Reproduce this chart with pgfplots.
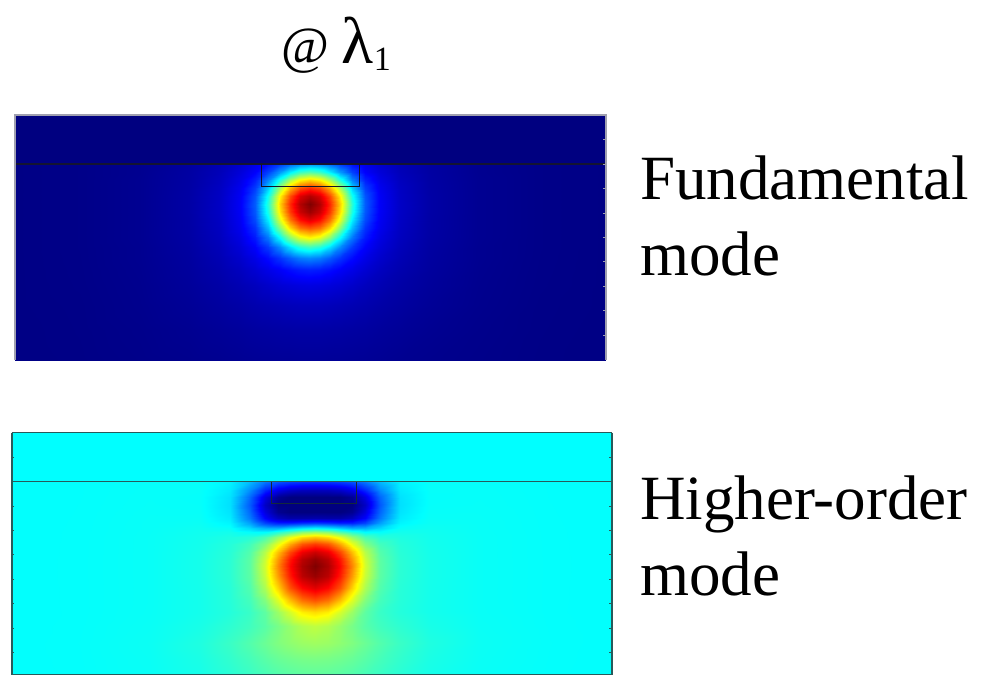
\documentclass[border=0pt]{standalone}
\usepackage{pgfplots}
\pgfplotsset{compat=1.18}
\usepackage{fontspec}
\setmainfont{Liberation Serif}
\definecolor{tealframe}{RGB}{40,90,90}
\definecolor{grayframe}{RGB}{160,160,175}
\begin{document}
\begin{tikzpicture}
\path[use as bounding box] (0,0) rectangle (986pt,-675pt);
% ---------- Fundamental mode ----------
\begin{axis}[at={(15pt,-115pt)}, anchor=north west, scale only axis,
  width=591pt, height=245pt, view={0}{90}, clip=false,
  xmin=15, xmax=606, ymin=115, ymax=360, y dir=reverse,
  colormap/jet, point meta min=0, point meta max=1,
  xtick=\empty, ztick=\empty,
  ytick={139.7,164.1,188.5,212.9,237.3,261.7,286.1,310.5,334.9}, yticklabels={},
  ytick pos=right, tick align=inside, major tick length=2.5pt,
  axis line style={draw=none},
  every tick/.style={grayframe, line width=0.8pt}]
\addplot3[surf, shader=interp, mesh/cols=23] coordinates {
(15,115,0) (80,115,0) (140,115,0) (190,115,0) (220,115,0) (240,115,0) (255,115,0) (268,115,0) (280,115,0) (290,115,0) (300,115,0) (310,115,0) (320,115,0) (330,115,0) (340,115,0) (352,115,0) (365,115,0) (380,115,0) (400,115,0) (430,115,0) (480,115,0) (540,115,0) (606,115,0)
(15,163,0) (80,163,0) (140,163,0) (190,163,0) (220,163,0) (240,163,0) (255,163,0) (268,163,0) (280,163,0) (290,163,0) (300,163,0) (310,163,0) (320,163,0) (330,163,0) (340,163,0) (352,163,0) (365,163,0) (380,163,0) (400,163,0) (430,163,0) (480,163,0) (540,163,0) (606,163,0)
(15,164,.005) (80,164,.0085) (140,164,.016) (190,164,.032) (220,164,.052) (240,164,.076) (255,164,.105) (268,164,.138) (280,164,.185) (290,164,.228) (300,164,.263) (310,164,.275) (320,164,.263) (330,164,.228) (340,164,.185) (352,164,.138) (365,164,.105) (380,164,.076) (400,164,.052) (430,164,.032) (480,164,.016) (540,164,.0085) (606,164,.005)
(15,172,.005) (80,172,.0085) (140,172,.016) (190,172,.034) (220,172,.056) (240,172,.087) (255,172,.122) (268,172,.188) (280,172,.275) (290,172,.36) (300,172,.43) (310,172,.455) (320,172,.43) (330,172,.36) (340,172,.275) (352,172,.188) (365,172,.122) (380,172,.087) (400,172,.056) (430,172,.034) (480,172,.016) (540,172,.0085) (606,172,.005)
(15,180,.005) (80,180,.0085) (140,180,.017) (190,180,.035) (220,180,.061) (240,180,.099) (255,180,.154) (268,180,.256) (280,180,.407) (290,180,.543) (300,180,.636) (310,180,.67) (320,180,.636) (330,180,.543) (340,180,.407) (352,180,.256) (365,180,.154) (380,180,.099) (400,180,.061) (430,180,.035) (480,180,.017) (540,180,.0085) (606,180,.005)
(15,188,.005) (80,188,.0085) (140,188,.017) (190,188,.036) (220,188,.065) (240,188,.109) (255,188,.184) (268,188,.33) (280,188,.543) (290,188,.70) (300,188,.80) (310,188,.835) (320,188,.80) (330,188,.70) (340,188,.543) (352,188,.33) (365,188,.184) (380,188,.109) (400,188,.065) (430,188,.036) (480,188,.017) (540,188,.0085) (606,188,.005)
(15,196,.005) (80,196,.0085) (140,196,.017) (190,196,.037) (220,196,.067) (240,196,.115) (255,196,.207) (268,196,.39) (280,196,.636) (290,196,.80) (300,196,.91) (310,196,.95) (320,196,.91) (330,196,.80) (340,196,.636) (352,196,.39) (365,196,.207) (380,196,.115) (400,196,.067) (430,196,.037) (480,196,.017) (540,196,.0085) (606,196,.005)
(15,204,.005) (80,204,.0085) (140,204,.017) (190,204,.037) (220,204,.068) (240,204,.117) (255,204,.215) (268,204,.415) (280,204,.67) (290,204,.835) (300,204,.95) (310,204,1) (320,204,.95) (330,204,.835) (340,204,.67) (352,204,.415) (365,204,.215) (380,204,.117) (400,204,.068) (430,204,.037) (480,204,.017) (540,204,.0085) (606,204,.005)
(15,212,.005) (80,212,.0085) (140,212,.017) (190,212,.037) (220,212,.068) (240,212,.116) (255,212,.21) (268,212,.40) (280,212,.65) (290,212,.815) (300,212,.925) (310,212,.97) (320,212,.925) (330,212,.815) (340,212,.65) (352,212,.40) (365,212,.21) (380,212,.116) (400,212,.068) (430,212,.037) (480,212,.017) (540,212,.0085) (606,212,.005)
(15,220,.005) (80,220,.0085) (140,220,.017) (190,220,.036) (220,220,.066) (240,220,.112) (255,220,.197) (268,220,.36) (280,220,.595) (290,220,.758) (300,220,.86) (310,220,.90) (320,220,.86) (330,220,.758) (340,220,.595) (352,220,.36) (365,220,.197) (380,220,.112) (400,220,.066) (430,220,.036) (480,220,.017) (540,220,.0085) (606,220,.005)
(15,228,.005) (80,228,.0085) (140,228,.017) (190,228,.036) (220,228,.064) (240,228,.107) (255,228,.173) (268,228,.31) (280,228,.505) (290,228,.66) (300,228,.76) (310,228,.79) (320,228,.76) (330,228,.66) (340,228,.505) (352,228,.31) (365,228,.173) (380,228,.107) (400,228,.064) (430,228,.036) (480,228,.017) (540,228,.0085) (606,228,.005)
(15,237,.005) (80,237,.0085) (140,237,.017) (190,237,.035) (220,237,.061) (240,237,.097) (255,237,.15) (268,237,.246) (280,237,.385) (290,237,.516) (300,237,.607) (310,237,.64) (320,237,.607) (330,237,.516) (340,237,.385) (352,237,.246) (365,237,.15) (380,237,.097) (400,237,.061) (430,237,.035) (480,237,.017) (540,237,.0085) (606,237,.005)
(15,247,.005) (80,247,.0085) (140,247,.016) (190,247,.033) (220,247,.056) (240,247,.086) (255,247,.123) (268,247,.181) (280,247,.262) (290,247,.345) (300,247,.41) (310,247,.435) (320,247,.41) (330,247,.345) (340,247,.262) (352,247,.181) (365,247,.123) (380,247,.086) (400,247,.056) (430,247,.033) (480,247,.016) (540,247,.0085) (606,247,.005)
(15,258,.005) (80,258,.0083) (140,258,.016) (190,258,.031) (220,258,.051) (240,258,.074) (255,258,.101) (268,258,.134) (280,258,.175) (290,258,.213) (300,258,.246) (310,258,.258) (320,258,.246) (330,258,.213) (340,258,.175) (352,258,.134) (365,258,.101) (380,258,.074) (400,258,.051) (430,258,.031) (480,258,.016) (540,258,.0083) (606,258,.005)
(15,270,.005) (80,270,.008) (140,270,.015) (190,270,.029) (220,270,.045) (240,270,.062) (255,270,.081) (268,270,.101) (280,270,.118) (290,270,.135) (300,270,.148) (310,270,.153) (320,270,.148) (330,270,.135) (340,270,.118) (352,270,.101) (365,270,.081) (380,270,.062) (400,270,.045) (430,270,.029) (480,270,.015) (540,270,.008) (606,270,.005)
(15,285,.005) (80,285,.0077) (140,285,.014) (190,285,.026) (220,285,.038) (240,285,.05) (255,285,.061) (268,285,.073) (280,285,.083) (290,285,.089) (300,285,.094) (310,285,.096) (320,285,.094) (330,285,.089) (340,285,.083) (352,285,.073) (365,285,.061) (380,285,.05) (400,285,.038) (430,285,.026) (480,285,.014) (540,285,.0077) (606,285,.005)
(15,305,.005) (80,305,.007) (140,305,.013) (190,305,.022) (220,305,.031) (240,305,.038) (255,305,.045) (268,305,.05) (280,305,.054) (290,305,.057) (300,305,.059) (310,305,.059) (320,305,.059) (330,305,.057) (340,305,.054) (352,305,.05) (365,305,.045) (380,305,.038) (400,305,.031) (430,305,.022) (480,305,.013) (540,305,.007) (606,305,.005)
(15,330,.0045) (80,330,.0066) (140,330,.011) (190,330,.017) (220,330,.023) (240,330,.027) (255,330,.031) (268,330,.033) (280,330,.035) (290,330,.036) (300,330,.037) (310,330,.037) (320,330,.037) (330,330,.036) (340,330,.035) (352,330,.033) (365,330,.031) (380,330,.027) (400,330,.023) (430,330,.017) (480,330,.011) (540,330,.0066) (606,330,.0045)
(15,360,.0043) (80,360,.006) (140,360,.0095) (190,360,.013) (220,360,.016) (240,360,.019) (255,360,.021) (268,360,.022) (280,360,.023) (290,360,.023) (300,360,.024) (310,360,.024) (320,360,.024) (330,360,.023) (340,360,.023) (352,360,.022) (365,360,.021) (380,360,.019) (400,360,.016) (430,360,.013) (480,360,.0095) (540,360,.006) (606,360,.0043)
};
\addplot3[draw={rgb,255:red,20;green,20;blue,50}, line width=1.1pt] coordinates {(15,164,1.1) (606,164,1.1)};
\addplot3[draw={rgb,255:red,20;green,20;blue,40}, line width=0.9pt] coordinates {(261,164,1.1) (261,186,1.1) (359,186,1.1) (359,164,1.1)};
\addplot3[draw=grayframe, line width=1.3pt] coordinates {(15,360,1.1) (15,115,1.1) (606,115,1.1) (606,360,1.1)};
\end{axis}
% ---------- Higher-order mode ----------
\begin{axis}[at={(12pt,-432.5pt)}, anchor=north west, scale only axis,
  width=600pt, height=242.5pt, view={0}{90},
  xmin=12, xmax=612, ymin=432.5, ymax=675, y dir=reverse,
  colormap/jet, point meta min=-0.6, point meta max=1,
  xtick=\empty, ztick=\empty,
  ytick={457,481.5,506,530.4,554.8,579.2,603.6,628,652.4}, yticklabels={},
  tick align=inside, major tick length=2.5pt,
  axis line style={tealframe, line width=1.2pt},
  every tick/.style={tealframe, line width=0.8pt}]
\addplot3[surf, shader=interp, mesh/cols=21] coordinates {
(12,432.5,0) (80,432.5,0) (150,432.5,0) (200,432.5,0) (230,432.5,0) (250,432.5,0) (265,432.5,0) (278,432.5,0) (290,432.5,0) (302,432.5,0) (315,432.5,0) (328,432.5,0) (340,432.5,0) (352,432.5,0) (365,432.5,0) (380,432.5,0) (400,432.5,0) (430,432.5,0) (480,432.5,0) (550,432.5,0) (612,432.5,0)
(12,481,0) (80,481,0) (150,481,0) (200,481,0) (230,481,0) (250,481,0) (265,481,0) (278,481,0) (290,481,0) (302,481,0) (315,481,0) (328,481,0) (340,481,0) (352,481,0) (365,481,0) (380,481,0) (400,481,0) (430,481,0) (480,481,0) (550,481,0) (612,481,0)
(12,482,.0022) (80,482,.0036) (150,482,.0075) (200,482,.009) (230,482,-.017) (250,482,-.112) (265,482,-.216) (278,482,-.278) (290,482,-.308) (302,482,-.321) (315,482,-.324) (328,482,-.321) (340,482,-.308) (352,482,-.278) (365,482,-.216) (380,482,-.112) (400,482,-.017) (430,482,.009) (480,482,.0075) (550,482,.0036) (612,482,.0022)
(12,490,.0023) (80,490,.0037) (150,490,.008) (200,490,.0075) (230,490,-.032) (250,490,-.179) (265,490,-.339) (278,490,-.434) (290,490,-.481) (302,490,-.50) (315,490,-.504) (328,490,-.50) (340,490,-.481) (352,490,-.434) (365,490,-.339) (380,490,-.179) (400,490,-.032) (430,490,.0075) (480,490,.008) (550,490,.0037) (612,490,.0023)
(12,497,.0023) (80,497,.0038) (150,497,.0085) (200,497,.006) (230,497,-.045) (250,497,-.239) (265,497,-.447) (278,497,-.57) (290,497,-.60) (302,497,-.60) (315,497,-.60) (328,497,-.60) (340,497,-.60) (352,497,-.57) (365,497,-.447) (380,497,-.239) (400,497,-.045) (430,497,.006) (480,497,.0085) (550,497,.0038) (612,497,.0023)
(12,505,.0024) (80,505,.004) (150,505,.009) (200,505,.007) (230,505,-.048) (250,505,-.261) (265,505,-.492) (278,505,-.60) (290,505,-.60) (302,505,-.60) (315,505,-.60) (328,505,-.60) (340,505,-.60) (352,505,-.60) (365,505,-.492) (380,505,-.261) (400,505,-.048) (430,505,.007) (480,505,.009) (550,505,.004) (612,505,.0024)
(12,512,.0024) (80,512,.0041) (150,512,.01) (200,512,.0096) (230,512,-.041) (250,512,-.239) (265,512,-.454) (278,512,-.574) (290,512,-.60) (302,512,-.60) (315,512,-.60) (328,512,-.60) (340,512,-.60) (352,512,-.574) (365,512,-.454) (380,512,-.239) (400,512,-.041) (430,512,.0096) (480,512,.01) (550,512,.0041) (612,512,.0024)
(12,518,.0024) (80,518,.0042) (150,518,.0105) (200,518,.012) (230,518,-.03) (250,518,-.211) (265,518,-.401) (278,518,-.50) (290,518,-.534) (302,518,-.534) (315,518,-.529) (328,518,-.534) (340,518,-.534) (352,518,-.50) (365,518,-.401) (380,518,-.211) (400,518,-.03) (430,518,.012) (480,518,.0105) (550,518,.0042) (612,518,.0024)
(12,523,.0024) (80,523,.0043) (150,523,.011) (200,523,.0156) (230,523,-.013) (250,523,-.148) (265,523,-.291) (278,523,-.347) (290,523,-.347) (302,523,-.324) (315,523,-.31) (328,523,-.324) (340,523,-.347) (352,523,-.347) (365,523,-.291) (380,523,-.148) (400,523,-.013) (430,523,.0156) (480,523,.011) (550,523,.0043) (612,523,.0024)
(12,528,.0024) (80,528,.0044) (150,528,.011) (200,528,.021) (230,528,.01) (250,528,-.063) (265,528,-.125) (278,528,-.13) (290,528,-.082) (302,528,-.04) (315,528,-.014) (328,528,-.04) (340,528,-.082) (352,528,-.13) (365,528,-.125) (380,528,-.063) (400,528,.01) (430,528,.021) (480,528,.011) (550,528,.0044) (612,528,.0024)
(12,532,.0024) (80,532,.0045) (150,532,.0115) (200,532,.024) (230,532,.029) (250,532,.004) (265,532,-.001) (278,532,.058) (290,532,.13) (302,532,.212) (315,532,.24) (328,532,.212) (340,532,.13) (352,532,.058) (365,532,-.001) (380,532,.004) (400,532,.029) (430,532,.024) (480,532,.0115) (550,532,.0045) (612,532,.0024)
(12,537,.0024) (80,537,.0045) (150,537,.012) (200,537,.027) (230,537,.045) (250,537,.06) (265,537,.116) (278,537,.231) (290,537,.359) (302,537,.451) (315,537,.49) (328,537,.451) (340,537,.359) (352,537,.231) (365,537,.116) (380,537,.06) (400,537,.045) (430,537,.027) (480,537,.012) (550,537,.0045) (612,537,.0024)
(12,544,.0024) (80,544,.0046) (150,544,.012) (200,544,.029) (230,544,.056) (250,544,.104) (265,544,.204) (278,544,.369) (290,544,.537) (302,544,.666) (315,544,.711) (328,544,.666) (340,544,.537) (352,544,.369) (365,544,.204) (380,544,.104) (400,544,.056) (430,544,.029) (480,544,.012) (550,544,.0046) (612,544,.0024)
(12,552,.0024) (80,552,.0046) (150,552,.012) (200,552,.031) (230,552,.062) (250,552,.13) (265,552,.285) (278,552,.50) (290,552,.69) (302,552,.825) (315,552,.88) (328,552,.825) (340,552,.69) (352,552,.50) (365,552,.285) (380,552,.13) (400,552,.062) (430,552,.031) (480,552,.012) (550,552,.0046) (612,552,.0024)
(12,559,.0024) (80,559,.0047) (150,559,.012) (200,559,.032) (230,559,.066) (250,559,.143) (265,559,.316) (278,559,.56) (290,559,.765) (302,559,.905) (315,559,.965) (328,559,.905) (340,559,.765) (352,559,.56) (365,559,.316) (380,559,.143) (400,559,.066) (430,559,.032) (480,559,.012) (550,559,.0047) (612,559,.0024)
(12,566,.0024) (80,566,.0047) (150,566,.012) (200,566,.032) (230,566,.067) (250,566,.145) (265,566,.33) (278,566,.59) (290,566,.79) (302,566,.93) (315,566,1) (328,566,.93) (340,566,.79) (352,566,.59) (365,566,.33) (380,566,.145) (400,566,.067) (430,566,.032) (480,566,.012) (550,566,.0047) (612,566,.0024)
(12,576,.0024) (80,576,.0047) (150,576,.012) (200,576,.032) (230,576,.066) (250,576,.143) (265,576,.314) (278,576,.556) (290,576,.76) (302,576,.905) (315,576,.96) (328,576,.905) (340,576,.76) (352,576,.556) (365,576,.314) (380,576,.143) (400,576,.066) (430,576,.032) (480,576,.012) (550,576,.0047) (612,576,.0024)
(12,588,.0024) (80,588,.0046) (150,588,.012) (200,588,.031) (230,588,.061) (250,588,.127) (265,588,.27) (278,588,.47) (290,588,.67) (302,588,.79) (315,588,.845) (328,588,.79) (340,588,.67) (352,588,.47) (365,588,.27) (380,588,.127) (400,588,.061) (430,588,.031) (480,588,.012) (550,588,.0046) (612,588,.0024)
(12,600,.0024) (80,600,.0046) (150,600,.012) (200,600,.03) (230,600,.059) (250,600,.107) (265,600,.204) (278,600,.349) (290,600,.505) (302,600,.625) (315,600,.675) (328,600,.625) (340,600,.505) (352,600,.349) (365,600,.204) (380,600,.107) (400,600,.059) (430,600,.03) (480,600,.012) (550,600,.0046) (612,600,.0024)
(12,612,.0024) (80,612,.0045) (150,612,.0125) (200,612,.03) (230,612,.055) (250,612,.088) (265,612,.146) (278,612,.243) (290,612,.334) (302,612,.425) (315,612,.455) (328,612,.425) (340,612,.334) (352,612,.243) (365,612,.146) (380,612,.088) (400,612,.055) (430,612,.03) (480,612,.0125) (550,612,.0045) (612,612,.0024)
(12,626,.0024) (80,626,.005) (150,626,.0145) (200,626,.037) (230,626,.07) (250,626,.10) (265,626,.137) (278,626,.187) (290,626,.235) (302,626,.279) (315,626,.30) (328,626,.279) (340,626,.235) (352,626,.187) (365,626,.137) (380,626,.10) (400,626,.07) (430,626,.037) (480,626,.0145) (550,626,.005) (612,626,.0024)
(12,643,.0024) (80,643,.0056) (150,643,.017) (200,643,.048) (230,643,.09) (250,643,.13) (265,643,.167) (278,643,.20) (290,643,.223) (302,643,.242) (315,643,.25) (328,643,.242) (340,643,.223) (352,643,.20) (365,643,.167) (380,643,.13) (400,643,.09) (430,643,.048) (480,643,.017) (550,643,.0056) (612,643,.0024)
(12,660,.0023) (80,660,.0051) (150,660,.015) (200,660,.04) (230,660,.076) (250,660,.107) (265,660,.136) (278,660,.159) (290,660,.173) (302,660,.183) (315,660,.187) (328,660,.183) (340,660,.173) (352,660,.159) (365,660,.136) (380,660,.107) (400,660,.076) (430,660,.04) (480,660,.015) (550,660,.0051) (612,660,.0023)
(12,675,.0022) (80,675,.0047) (150,675,.0132) (200,675,.034) (230,675,.063) (250,675,.089) (265,675,.11) (278,675,.128) (290,675,.139) (302,675,.147) (315,675,.15) (328,675,.147) (340,675,.139) (352,675,.128) (365,675,.11) (380,675,.089) (400,675,.063) (430,675,.034) (480,675,.0132) (550,675,.0047) (612,675,.0022)
};
\addplot3[draw=tealframe, line width=1.2pt] coordinates {(12,481.5,1.1) (612,481.5,1.1)};
\addplot3[draw={rgb,255:red,20;green,40;blue,60}, line width=0.9pt] coordinates {(271,481.5,1.1) (271,503,1.1) (356,503,1.1) (356,481.5,1.1)};
\end{axis}
% ---------- Texts ----------
\node[anchor=base, inner sep=0pt] at (336pt,-63pt)
  {{\fontsize{52}{60}\selectfont @ }{\fontsize{66}{72}\selectfont λ}\raisebox{-7pt}{\fontsize{34}{40}\selectfont 1}};
\node[anchor=base west, inner sep=0pt, font=\fontsize{63}{76}\selectfont] at (640pt,-199pt) {Fundamental};
\node[anchor=base west, inner sep=0pt, font=\fontsize{63}{76}\selectfont] at (640pt,-275pt) {mode};
\node[anchor=base west, inner sep=0pt, font=\fontsize{63}{76}\selectfont] at (640pt,-519pt) {Higher-order};
\node[anchor=base west, inner sep=0pt, font=\fontsize{63}{76}\selectfont] at (640pt,-595pt) {mode};
\end{tikzpicture}
\end{document}
